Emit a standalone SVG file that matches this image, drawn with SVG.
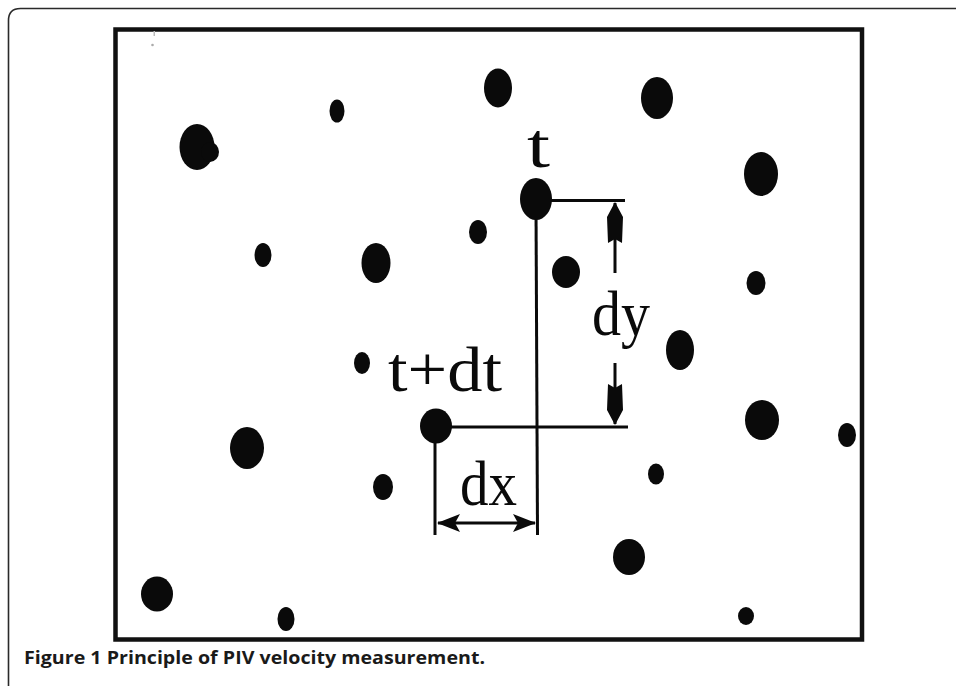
<svg xmlns="http://www.w3.org/2000/svg" width="956" height="686" viewBox="0 0 956 686">
  <style>
    .p { fill: #0a0a0a; }
    .ln { stroke: #0a0a0a; stroke-width: 3; fill: none; }
    .lbl { font-family: "Liberation Serif", "Times New Roman", serif; font-size: 64px; fill: #0a0a0a; }
    .cap { font-family: "Open Sans", "Liberation Sans", sans-serif; font-size: 17px; font-weight: bold; fill: #1a1a1a; }
  </style>
  <defs>
    <marker id="headLong" markerUnits="userSpaceOnUse" viewBox="-42 -10 44 20" refX="0" refY="0" markerWidth="44" markerHeight="20" orient="auto">
      <path d="M1,0 L-14,-8 L-40,-7 L-36,0 L-40,7 L-14,8 Z" fill="#0a0a0a"/>
    </marker>
    <marker id="headShort" markerUnits="userSpaceOnUse" viewBox="-26 -10 28 20" refX="0" refY="0" markerWidth="28" markerHeight="20" orient="auto-start-reverse">
      <path d="M1,0 L-22,-9 L-17,0 L-22,9 Z" fill="#0a0a0a"/>
    </marker>
  </defs>
  <rect width="956" height="686" fill="#ffffff"/>
  <path d="M8.5,686 V20.5 Q8.5,8.5 20.5,8.5 H956" fill="none" stroke="#2a2a2a" stroke-width="1.6"/>
  <rect x="115.5" y="29.5" width="746.5" height="610" fill="#ffffff" stroke="#111111" stroke-width="4.5"/>
  <rect x="153.5" y="31" width="1.5" height="5" fill="#bbbbbb"/>
  <circle cx="152.5" cy="45" r="1.3" fill="#aaaaaa"/>

  <g id="connectors">
    <line class="ln" x1="536" y1="205" x2="537.5" y2="535"/>
    <line class="ln" x1="536" y1="200.5" x2="625" y2="200.5"/>
    <line class="ln" x1="436" y1="427" x2="628" y2="427"/>
    <line class="ln" x1="435" y1="428" x2="435" y2="535"/>
    <line class="ln" x1="615" y1="273" x2="615" y2="203" marker-end="url(#headLong)"/>
    <line class="ln" x1="615" y1="363" x2="615" y2="424" marker-end="url(#headLong)"/>
    <line class="ln" x1="438" y1="523" x2="535" y2="523" marker-start="url(#headShort)" marker-end="url(#headShort)"/>
  </g>

  <g id="particles">
    <ellipse id="p1" class="p" cx="498" cy="88" rx="14" ry="19.5"/>
    <ellipse id="p2" class="p" cx="657" cy="98" rx="16" ry="21"/>
    <ellipse id="p3" class="p" cx="337" cy="111" rx="7.5" ry="11.5"/>
    <g id="p4">
      <ellipse class="p" cx="197" cy="147" rx="17.5" ry="23"/>
      <ellipse class="p" cx="210" cy="152" rx="9" ry="10"/>
    </g>
    <ellipse id="p5" class="p" cx="761" cy="174" rx="17" ry="22"/>
    <ellipse id="p-t" class="p" cx="536" cy="199" rx="16" ry="21"/>
    <ellipse id="p7" class="p" cx="478" cy="232" rx="9" ry="12"/>
    <ellipse id="p8" class="p" cx="263" cy="255" rx="8.5" ry="12"/>
    <ellipse id="p9" class="p" cx="376" cy="263" rx="14.5" ry="20"/>
    <ellipse id="p10" class="p" cx="566" cy="272" rx="14" ry="16"/>
    <ellipse id="p11" class="p" cx="756" cy="283" rx="9.5" ry="12"/>
    <ellipse id="p12" class="p" cx="680" cy="350" rx="14" ry="20"/>
    <ellipse id="p13" class="p" cx="362" cy="363" rx="8" ry="11"/>
    <ellipse id="p-tdt" class="p" cx="436" cy="426" rx="16" ry="17.5"/>
    <ellipse id="p15" class="p" cx="762" cy="420" rx="17" ry="20"/>
    <ellipse id="p16" class="p" cx="247" cy="448" rx="17" ry="21"/>
    <ellipse id="p17" class="p" cx="847" cy="435" rx="9" ry="12"/>
    <ellipse id="p18" class="p" cx="656" cy="474" rx="8" ry="10.5"/>
    <ellipse id="p19" class="p" cx="383" cy="487" rx="10" ry="13"/>
    <ellipse id="p20" class="p" cx="629" cy="557" rx="16" ry="18"/>
    <ellipse id="p21" class="p" cx="157" cy="594" rx="16" ry="17.5"/>
    <ellipse id="p22" class="p" cx="286" cy="619" rx="8.5" ry="12"/>
    <ellipse id="p23" class="p" cx="746" cy="616" rx="8" ry="9"/>
  </g>

  <g id="labels">
    <text class="lbl" x="527" y="167" textLength="23" lengthAdjust="spacingAndGlyphs">t</text>
    <text class="lbl" x="388" y="391" textLength="114" lengthAdjust="spacingAndGlyphs">t+dt</text>
    <text class="lbl" x="592" y="335" textLength="58" lengthAdjust="spacingAndGlyphs">dy</text>
    <text class="lbl" x="460" y="505" font-size="60" textLength="57" lengthAdjust="spacingAndGlyphs">dx</text>
  </g>

  <text id="caption" class="cap" x="24" y="664" textLength="461" lengthAdjust="spacingAndGlyphs">Figure 1 Principle of PIV velocity measurement.</text>
</svg>
